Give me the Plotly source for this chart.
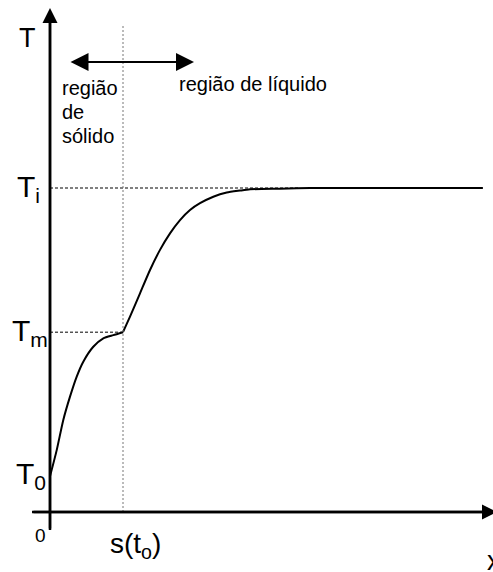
import plotly.graph_objects as go

# ---- data (x in units of s(t_o), T in units of T_i) ----
x_solid = [0.0, 0.092, 0.182, 0.274, 0.366, 0.456, 0.593, 0.730, 0.867, 1.0]
T_solid = [0.11, 0.191, 0.284, 0.356, 0.418, 0.464, 0.510, 0.536, 0.546, 0.555]
x_liquid = [1.0, 1.096, 1.233, 1.370, 1.507, 1.644, 1.781, 1.918, 2.055, 2.237,
            2.421, 2.603, 2.740, 3.151, 3.562, 5.93]
T_liquid = [0.555, 0.603, 0.675, 0.747, 0.809, 0.860, 0.901, 0.932, 0.953, 0.973,
            0.986, 0.992, 0.996, 0.998, 1.0, 1.0]

s_to = 1.0
T_i = 1.0
T_m = 0.555
T_0 = 0.114

FONT = "Liberation Sans, Arial, sans-serif"
W, H = 493, 572
x_range = [-50 / 73, 443 / 73]
y_range = [-60 / 324, 512 / 324]
dx = (x_range[1] - x_range[0]) / W   # data per pixel
dy = (y_range[1] - y_range[0]) / H

fig = go.Figure()
for xs, ts in ((x_solid, T_solid), (x_liquid, T_liquid)):
    fig.add_trace(go.Scatter(x=xs, y=ts, mode="lines",
                             line=dict(color="black", width=2, shape="spline", smoothing=0.6),
                             hoverinfo="skip", showlegend=False))

shapes = [
    dict(type="line", x0=0, x1=3.4, y0=T_i, y1=T_i, line=dict(color="black", width=1, dash="3px,2px")),
    dict(type="line", x0=0, x1=s_to, y0=T_m, y1=T_m, line=dict(color="black", width=1, dash="3px,2px")),
    dict(type="line", x0=s_to, x1=s_to, y0=0, y1=y_range[1] - 25 * dy,
         line=dict(color="#777777", width=1, dash="2px,2px")),
    # main axis lines
    dict(type="line", x0=x_range[0] + 32 * dx, x1=x_range[1], y0=0, y1=0,
         line=dict(color="black", width=2.5)),
    dict(type="line", x0=0, x1=0, y0=-18 * dy, y1=y_range[1] - 15 * dy,
         line=dict(color="black", width=2.5)),
]

annotations = []
# axis arrowheads
annotations.append(dict(x=0, y=y_range[1] - 8 * dy, ax=0, ay=-18 * dy, xref="x", yref="y",
                        axref="x", ayref="y", text="", showarrow=True, arrowhead=2,
                        arrowsize=1.2, arrowwidth=2.5, arrowcolor="black", standoff=0))
annotations.append(dict(x=x_range[1] + 4 * dx, y=0, ax=-18 * dx, ay=0, xref="x", yref="y",
                        axref="x", ayref="y", text="", showarrow=True, arrowhead=2,
                        arrowsize=1.2, arrowwidth=2.5, arrowcolor="black", standoff=0))
# double arrow for regions
annotations.append(dict(x=1.973, y=1.389, ax=0.26, ay=1.389, xref="x", yref="y",
                        axref="x", ayref="y", text="", showarrow=True, arrowhead=2,
                        arrowside="end+start", arrowsize=1.8, arrowwidth=2,
                        arrowcolor="black", standoff=0, startstandoff=0, startarrowhead=2,
                        startarrowsize=1.8))


def label(text, x, y, size, xanchor="center", yanchor="middle"):
    annotations.append(dict(x=x, y=y, xref="x", yref="y", text=text, showarrow=False,
                            xanchor=xanchor, yanchor=yanchor,
                            font=dict(family=FONT, size=size, color="black")))


label("T", -12 * dx, y_range[1] - 38 * dy, 27, xanchor="right")
label("T<sub>i</sub>", -8 * dx, T_i, 30, xanchor="right")
label("T<sub>m</sub>", 0, T_m, 30, xanchor="right")
label("T<sub>0</sub>", -2 * dx, T_0, 30, xanchor="right")
label("0", -10 * dx, -23 * dy, 19)
label("s(t<sub>o</sub>)", s_to + 12 * dx, -33 * dy, 28)
label("x", x_range[1] - 8 * dx, -49 * dy, 27, xanchor="left")
label("região", 10 * dx, 1.389 - 26 * dy, 20, xanchor="left")
label("de", 10 * dx, 1.389 - 50 * dy, 20, xanchor="left")
label("sólido", 10 * dx, 1.389 - 74 * dy, 20, xanchor="left")
label("região de líquido", 127 * dx, 1.389 - 22 * dy, 20, xanchor="left")

fig.update_layout(
    width=W, height=H, margin=dict(l=0, r=0, t=0, b=0),
    paper_bgcolor="white", plot_bgcolor="white",
    xaxis=dict(range=x_range, visible=False, fixedrange=True),
    yaxis=dict(range=y_range, visible=False, fixedrange=True),
    shapes=shapes, annotations=annotations, showlegend=False,
)
fig.write_html("out.html")
